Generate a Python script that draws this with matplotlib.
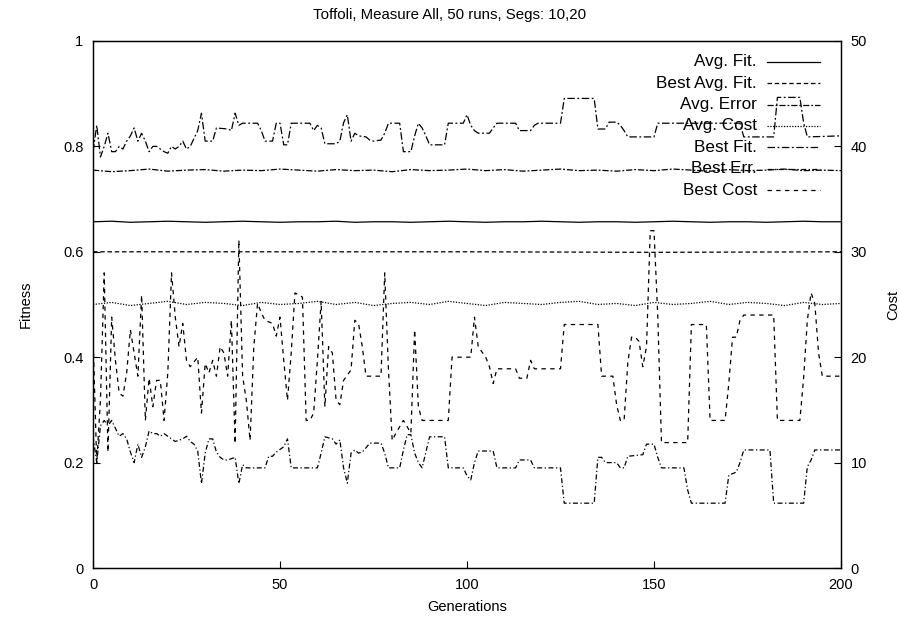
import matplotlib
matplotlib.use('Agg')
from matplotlib import pyplot as plt

plt.rcParams['font.family'] = ['Liberation Sans', 'DejaVu Sans']
plt.rcParams['font.size'] = 10.5

# generations sampled for the averaged series
avg_gen = [0, 5, 10, 15, 20, 25, 30, 35, 40, 45, 50, 55, 60, 65, 70, 75, 80, 85, 90, 95, 100,
           105, 110, 115, 120, 125, 130, 135, 140, 145, 150, 155, 160, 165, 170, 175, 180, 185, 190, 195, 200]
avg_fit = [0.657, 0.658, 0.656, 0.657, 0.658, 0.657, 0.656, 0.657, 0.658, 0.657, 0.656,
           0.657, 0.657, 0.658, 0.656, 0.657, 0.657, 0.656, 0.657, 0.658, 0.657,
           0.656, 0.657, 0.657, 0.658, 0.657, 0.656, 0.657, 0.657, 0.656, 0.657,
           0.658, 0.657, 0.656, 0.657, 0.657, 0.656, 0.657, 0.658, 0.657, 0.657]
avg_err = [0.755, 0.752, 0.754, 0.757, 0.753, 0.755, 0.756, 0.753, 0.755, 0.754, 0.757,
           0.755, 0.753, 0.756, 0.754, 0.755, 0.752, 0.756, 0.754, 0.755, 0.757,
           0.754, 0.756, 0.753, 0.755, 0.757, 0.754, 0.755, 0.753, 0.756, 0.754,
           0.757, 0.755, 0.753, 0.756, 0.754, 0.755, 0.757, 0.754, 0.755, 0.754]
avg_cost = [25.0, 25.2, 24.9, 25.1, 25.3, 25.0, 25.2, 25.1, 24.9, 25.2, 25.0,
            25.1, 25.3, 25.0, 25.2, 24.9, 25.1, 25.2, 25.0, 25.3, 25.1,
            24.9, 25.2, 25.1, 25.0, 25.2, 25.3, 25.0, 25.1, 24.9, 25.2,
            25.0, 25.1, 25.3, 25.0, 25.2, 25.1, 24.9, 25.2, 25.0, 25.1]

best_avg_fit = [(0, 0.6), (50, 0.6), (100, 0.6), (150, 0.599), (200, 0.6)]

# (generation, value) pairs
best_fit = [(0, 0.79), (1, 0.84), (2, 0.78), (3, 0.80), (4, 0.825), (5, 0.79), (6, 0.79), (7, 0.80),
            (8, 0.795), (9, 0.81), (10, 0.82), (11, 0.835), (12, 0.81), (13, 0.825), (14, 0.81),
            (15, 0.79), (16, 0.80), (17, 0.80), (18, 0.795), (19, 0.79), (20, 0.787), (21, 0.80),
            (22, 0.795), (23, 0.80), (24, 0.81), (25, 0.795), (26, 0.80), (27, 0.815), (28, 0.83),
            (29, 0.863), (30, 0.81), (32, 0.81), (33, 0.835), (36, 0.833), (37, 0.83), (38, 0.863),
            (39, 0.84), (40, 0.844), (44, 0.844), (45, 0.83), (46, 0.81), (48, 0.81), (49, 0.844),
            (50, 0.844), (51, 0.803), (52, 0.803), (53, 0.844), (58, 0.844), (59, 0.83), (60, 0.84),
            (61, 0.835), (62, 0.805), (65, 0.805), (66, 0.81), (67, 0.845), (68, 0.86), (69, 0.81),
            (70, 0.825), (71, 0.82), (73, 0.818), (74, 0.812), (75, 0.81), (77, 0.812), (78, 0.825),
            (79, 0.844), (82, 0.844), (83, 0.79), (85, 0.79), (86, 0.82), (87, 0.844), (88, 0.835),
            (89, 0.82), (90, 0.803), (94, 0.803), (95, 0.844), (99, 0.844), (100, 0.86), (101, 0.84),
            (102, 0.83), (103, 0.825), (106, 0.825), (107, 0.835), (108, 0.844), (113, 0.844),
            (114, 0.83), (117, 0.83), (118, 0.84), (119, 0.844), (125, 0.844), (126, 0.891),
            (134, 0.891), (135, 0.833), (137, 0.833), (138, 0.846), (140, 0.846), (141, 0.84),
            (142, 0.83), (143, 0.818), (150, 0.818), (151, 0.844), (173, 0.844), (174, 0.818),
            (182, 0.818), (183, 0.893), (189, 0.893), (190, 0.845), (191, 0.818), (200, 0.82)]

best_err = [(0, 0.25), (1, 0.2), (2, 0.27), (3, 0.28), (4, 0.27), (5, 0.28), (6, 0.265), (7, 0.25),
            (8, 0.255), (9, 0.245), (10, 0.22), (11, 0.2), (12, 0.235), (13, 0.21), (14, 0.23),
            (15, 0.26), (16, 0.255), (17, 0.255), (18, 0.25), (19, 0.255), (20, 0.25), (21, 0.245),
            (22, 0.24), (24, 0.245), (25, 0.25), (26, 0.24), (27, 0.235), (28, 0.222), (29, 0.16),
            (30, 0.218), (31, 0.245), (32, 0.245), (33, 0.22), (34, 0.21), (35, 0.205), (36, 0.205),
            (38, 0.21), (39, 0.16), (40, 0.196), (41, 0.19), (46, 0.19), (47, 0.212), (48, 0.212),
            (49, 0.22), (51, 0.23), (52, 0.245), (53, 0.19), (60, 0.19), (61, 0.218), (62, 0.249),
            (64, 0.245), (65, 0.235), (66, 0.243), (67, 0.19), (68, 0.161), (69, 0.218), (70, 0.224),
            (71, 0.218), (72, 0.22), (73, 0.228), (74, 0.237), (77, 0.237), (78, 0.218), (79, 0.19),
            (82, 0.19), (83, 0.224), (84, 0.253), (85, 0.253), (86, 0.218), (87, 0.2), (88, 0.19),
            (89, 0.22), (90, 0.249), (94, 0.249), (95, 0.19), (99, 0.19), (100, 0.175), (101, 0.167),
            (102, 0.2), (103, 0.222), (107, 0.222), (108, 0.19), (113, 0.19), (114, 0.205),
            (117, 0.205), (118, 0.19), (125, 0.19), (126, 0.123), (134, 0.123), (135, 0.21),
            (136, 0.21), (137, 0.2), (140, 0.2), (141, 0.19), (142, 0.19), (143, 0.212), (147, 0.215),
            (148, 0.235), (150, 0.235), (151, 0.21), (152, 0.19), (158, 0.19), (159, 0.148),
            (160, 0.123), (169, 0.123), (170, 0.176), (172, 0.182), (173, 0.2), (174, 0.224),
            (181, 0.224), (182, 0.123), (190, 0.123), (191, 0.192), (192, 0.205), (193, 0.224),
            (200, 0.224)]

best_cost = [(0, 22.0), (1, 10.0), (2, 16.0), (3, 28.0), (4, 11.0), (5, 23.8), (6, 19.7), (7, 16.6),
             (8, 16.3), (9, 18.5), (10, 22.6), (11, 20.4), (12, 18.2), (13, 25.9), (14, 14.0),
             (15, 18.0), (16, 15.3), (17, 17.8), (18, 17.8), (19, 14.0), (20, 18.5), (21, 28.0),
             (22, 23.8), (23, 21.0), (24, 23.2), (25, 19.7), (26, 19.1), (28, 20.0), (29, 14.7),
             (30, 19.4), (31, 18.5), (32, 19.7), (33, 18.2), (34, 21.0), (35, 20.4), (36, 18.2),
             (37, 23.5), (38, 11.8), (39, 31.1), (40, 18.2), (41, 15.9), (42, 12.1), (43, 21.0),
             (44, 25.1), (45, 24.2), (46, 23.5), (48, 23.2), (49, 22.0), (50, 23.8), (51, 19.7),
             (52, 15.9), (53, 20.4), (54, 26.1), (56, 25.7), (57, 14.0), (58, 14.0), (59, 14.7),
             (60, 19.7), (61, 25.3), (62, 15.3), (63, 21.0), (64, 20.4), (65, 15.9), (66, 15.5),
             (67, 17.8), (69, 18.8), (70, 23.5), (71, 23.2), (72, 21.0), (73, 18.2), (77, 18.2),
             (78, 28.0), (79, 18.8), (80, 12.1), (81, 12.8), (82, 13.4), (83, 14.0), (85, 12.8),
             (86, 22.6), (87, 15.3), (88, 14.0), (95, 14.0), (96, 20.0), (101, 20.0), (102, 23.8),
             (103, 21.0), (105, 20.0), (106, 19.1), (107, 17.5), (108, 18.9), (113, 18.9),
             (114, 18.0), (116, 18.0), (117, 19.7), (118, 18.9), (125, 18.9), (126, 23.1),
             (135, 23.1), (136, 18.2), (139, 18.2), (140, 15.5), (141, 14.0), (142, 14.0),
             (143, 19.5), (144, 21.9), (145, 21.9), (146, 21.5), (147, 19.1), (148, 21.0),
             (149, 32.0), (150, 32.0), (151, 24.0), (152, 11.9), (159, 11.9), (160, 23.1),
             (164, 23.1), (165, 14.0), (169, 14.0), (170, 17.5), (171, 21.9), (172, 21.9),
             (173, 23.5), (174, 24.0), (182, 24.0), (183, 14.0), (189, 14.0), (190, 18.0),
             (191, 23.5), (192, 26.1), (193, 25.1), (194, 20.4), (195, 18.2), (200, 18.2)]

x_ticks = [0, 50, 100, 150, 200]
fit_ticks = [0, 0.2, 0.4, 0.6, 0.8, 1]
fit_labels = ['0', '0.2', '0.4', '0.6', '0.8', '1']
cost_ticks = [0, 10, 20, 30, 40, 50]

styles = {
    'Avg. Fit.': '-',
    'Best Avg. Fit.': (0, (3.6, 2.2)),
    'Avg. Error': (0, (5, 1.5, 1.5, 1.5)),
    'Avg. Cost': (0, (1, 1.2)),
    'Best Fit.': (0, (6, 2, 1.5, 2)),
    'Best Err.': (0, (4, 2, 1, 2)),
    'Best Cost': (0, (3.5, 3.5)),
}
lw = 0.9
col = 'black'

fig = plt.figure(figsize=(8.99, 6.26), dpi=100)
ax = fig.add_axes([93 / 899, 1 - 568 / 626, 748 / 899, 527 / 626])
ax2 = ax.twinx()

ax.plot(avg_gen, avg_fit, color=col, lw=lw, ls=styles['Avg. Fit.'])
g, v = zip(*best_avg_fit)
ax.plot(g, v, color=col, lw=lw, ls=styles['Best Avg. Fit.'])
ax.plot(avg_gen, avg_err, color=col, lw=lw, ls=styles['Avg. Error'])
ax2.plot(avg_gen, avg_cost, color=col, lw=lw, ls=styles['Avg. Cost'])
g, v = zip(*best_fit)
ax.plot(g, v, color=col, lw=lw, ls=styles['Best Fit.'])
g, v = zip(*best_err)
ax.plot(g, v, color=col, lw=lw, ls=styles['Best Err.'])
g, v = zip(*best_cost)
ax2.plot(g, v, color=col, lw=lw, ls=styles['Best Cost'])

ax.set_xlim(0, 200)
ax.set_ylim(0, 1)
ax2.set_ylim(0, 50)
ax.set_xticks(x_ticks)
ax.set_yticks(fit_ticks)
ax.set_yticklabels(fit_labels)
ax2.set_yticks(cost_ticks)
ax.tick_params(direction='in', length=5, width=0.8, pad=7)
ax2.tick_params(direction='in', length=5, width=0.8, pad=7)
for a in (ax, ax2):
    for s in a.spines.values():
        s.set_linewidth(0.9)

ax.set_xlabel('Generations', labelpad=6)
ax.set_ylabel('Fitness', labelpad=22)
ax2.set_ylabel('Cost', labelpad=14)
# title centred on the whole canvas
fig.text(0.5, 1 - 15 / 626, 'Toffoli, Measure All, 50 runs, Segs: 10,20',
         ha='center', va='center', fontsize=10.8)

# key in the top right, text right-aligned with the sample after it
names = list(styles.keys())
for i, name in enumerate(names):
    y = 0.9607 - 0.0406 * i
    ax.text(0.8877, y, name, transform=ax.transAxes, ha='right', va='center', fontsize=12.3)
    ax.plot([0.901, 0.972], [y, y], transform=ax.transAxes, color=col, lw=lw, ls=styles[name])

fig.savefig('out.png', dpi=100)
